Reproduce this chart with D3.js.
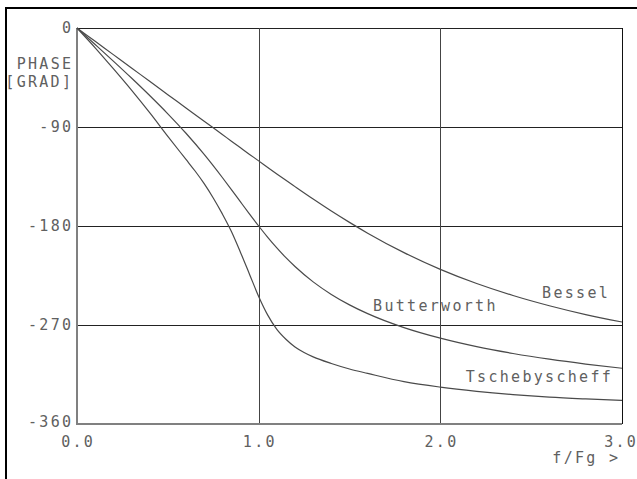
<!DOCTYPE html>
<html>
<head>
<meta charset="utf-8">
<script src="https://cdn.jsdelivr.net/npm/d3@7"></script>
<style>
  body { margin: 0; background: #fff; }
  text { font-family: "DejaVu Sans Mono", "Liberation Mono", monospace; font-size: 15px; fill: #606060; letter-spacing: 2.3px; }
</style>
</head>
<body>
<script>
// frequency f/Fg for Bessel and Butterworth
var freq = [0, 0.1, 0.2, 0.3, 0.4, 0.5, 0.6, 0.7, 0.8, 0.85, 0.9, 0.95, 1.0, 1.05, 1.1, 1.15,
            1.2, 1.3, 1.4, 1.5, 1.6, 1.8, 2.0, 2.2, 2.4, 2.6, 2.8, 3.0];

// phase in degrees
var bessel = [0, -12.1, -24.2, -36.3, -48.5, -60.6, -72.7, -84.8, -96.8, -102.9, -108.9, -114.9,
              -120.8, -126.8, -132.7, -138.5, -144.2, -155.5, -166.4, -176.7, -186.5, -204.2,
              -219.4, -232.3, -243.2, -252.5, -260.5, -267.3];
var butterworth = [0, -15.0, -30.1, -45.5, -61.4, -78.0, -95.7, -114.9, -135.9, -146.9, -158.1, -169.2,
                   -180, -190.3, -199.9, -208.8, -216.8, -230.8, -242.2, -251.7, -259.7, -272.4,
                   -282.0, -289.7, -295.9, -301.1, -305.5, -309.3];

// Tschebyscheff has a sharper knee, so more points around f = 1
var tschebFreq = [0, 0.1, 0.2, 0.3, 0.4, 0.5, 0.6, 0.65, 0.7, 0.75, 0.8, 0.85, 0.9, 0.95, 1.0, 1.05,
                  1.1, 1.15, 1.2, 1.25, 1.3, 1.4, 1.5, 1.6, 1.8, 2.0, 2.2, 2.4, 2.6, 2.8, 3.0];
var tscheb = [0, -18, -37, -56.5, -77, -98.5, -119.5, -130, -141.5, -154.5, -169, -185, -204, -224, -244, -261,
              -274, -283, -290, -295, -299, -305, -310, -314, -321.5, -326.5, -330.3, -333.3, -335.6, -337.2, -338.5];

var seriesNames = ["Bessel", "Butterworth", "Tschebyscheff"];
var labelPos = [[2.56, -245], [1.63, -257], [2.14, -322]];

var yTicks = [0, -90, -180, -270, -360];
var xTicks = [0, 1, 2, 3];
var xTickLabels = ["0.0", "1.0", "2.0", "3.0"];

var W = 637, H = 479;
var margin = { top: 28, right: 15, bottom: 55, left: 77 };
var ls = 2.3;

var svg = d3.select("body").append("svg")
  .attr("width", W)
  .attr("height", H);

// outer frame (only left and top visible)
svg.append("rect")
  .attr("x", 6).attr("y", 8)
  .attr("width", W + 10).attr("height", H + 10)
  .attr("fill", "none")
  .attr("stroke", "#000")
  .attr("stroke-width", 2);

var xScale = d3.scaleLinear()
  .domain([0, 3])
  .range([margin.left, W - margin.right]);

var yScale = d3.scaleLinear()
  .domain([-360, 0])
  .range([H - margin.bottom, margin.top]);

// grid
svg.append("g").selectAll("line")
  .data(yTicks.slice(0, 4))
  .enter().append("line")
    .attr("x1", xScale(0)).attr("x2", xScale(3))
    .attr("y1", function(d) { return Math.round(yScale(d)) + 0.5; })
    .attr("y2", function(d) { return Math.round(yScale(d)) + 0.5; })
    .attr("stroke", "#222");

svg.append("g").selectAll("line")
  .data(xTicks.slice(1))
  .enter().append("line")
    .attr("y1", yScale(0)).attr("y2", yScale(-360))
    .attr("x1", function(d) { return Math.round(xScale(d)) + 0.5; })
    .attr("x2", function(d) { return Math.round(xScale(d)) + 0.5; })
    .attr("stroke", function(d) { return d == 3 ? "#111" : "#444"; });

// left and bottom axis lines, grey
svg.append("line")
  .attr("x1", xScale(0)).attr("x2", xScale(0))
  .attr("y1", yScale(0)).attr("y2", yScale(-360) + 1)
  .attr("stroke", "#808080").attr("stroke-width", 2);
svg.append("line")
  .attr("x1", xScale(0)).attr("x2", xScale(3))
  .attr("y1", yScale(-360)).attr("y2", yScale(-360))
  .attr("stroke", "#808080").attr("stroke-width", 2);

// tick labels
svg.append("g").selectAll("text")
  .data(yTicks)
  .enter().append("text")
    .attr("x", xScale(0) - 6 + ls)
    .attr("y", function(d) { return yScale(d) - (d == -360 ? 2 : 0); })
    .attr("text-anchor", "end")
    .attr("dominant-baseline", "central")
    .text(function(d) { return d; });

svg.append("g").selectAll("text")
  .data(xTicks)
  .enter().append("text")
    .attr("x", function(d) { return xScale(d) + ls / 2 - (d == 3 ? 2 : 0); })
    .attr("y", yScale(-360) + 23)
    .attr("text-anchor", "middle")
    .text(function(d, i) { return xTickLabels[i]; });

svg.append("text")
  .attr("x", xScale(3) - 4 + ls)
  .attr("y", yScale(-360) + 39)
  .attr("text-anchor", "end")
  .text("f/Fg >");

svg.append("text")
  .attr("x", xScale(0) - 6 + ls).attr("y", 69)
  .attr("text-anchor", "end")
  .text("PHASE");
svg.append("text")
  .attr("x", xScale(0) - 6 + ls).attr("y", 87)
  .attr("text-anchor", "end")
  .text("[GRAD]");

// curves
var line = d3.line()
  .x(function(d) { return xScale(d[0]); })
  .y(function(d) { return yScale(d[1]); })
  .curve(d3.curveMonotoneX);

var allFreq = [freq, freq, tschebFreq];
[bessel, butterworth, tscheb].forEach(function(s, k) {
  svg.append("path")
    .datum(d3.zip(allFreq[k], s))
    .attr("d", line)
    .attr("fill", "none")
    .attr("stroke", "#4a4a4a")
    .attr("stroke-width", 1.2);

  svg.append("text")
    .attr("x", xScale(labelPos[k][0]))
    .attr("y", yScale(labelPos[k][1]))
    .text(seriesNames[k]);
});
</script>
</body>
</html>
